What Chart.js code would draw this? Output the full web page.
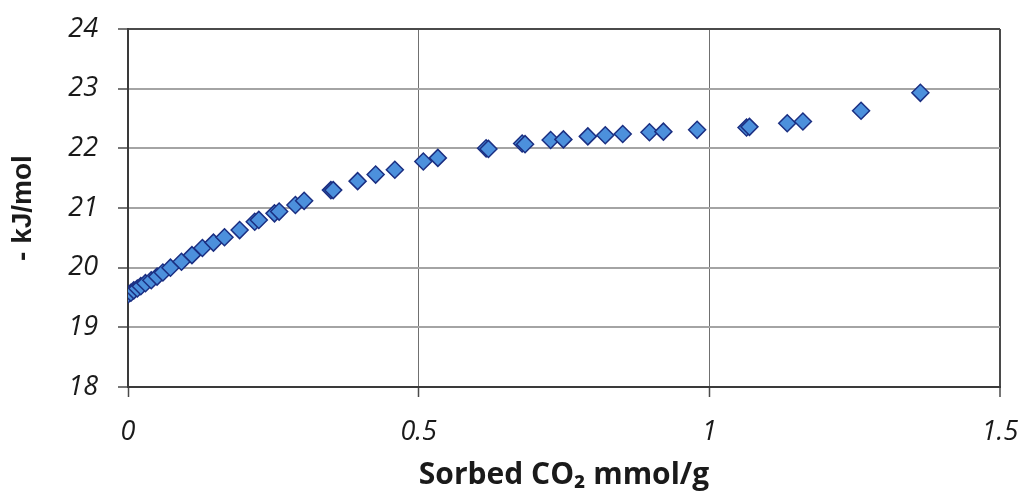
<!DOCTYPE html>
<html>
<head>
<meta charset="utf-8">
<script src="https://cdn.jsdelivr.net/npm/chart.js@4.4.1/dist/chart.umd.min.js"></script>
<style>
  html, body { margin: 0; padding: 0; background: #ffffff; }
  #wrap { width: 1023px; height: 493px; }
</style>
</head>
<body>
<div id="wrap"><canvas id="c" width="1023" height="493"></canvas></div>
<script>
// ---- data ----
const sorbedCO2 = [0.000, 0.005, 0.010, 0.016, 0.022, 0.030, 0.040, 0.050, 0.060, 0.073,
                   0.092, 0.110, 0.128, 0.147, 0.166, 0.192, 0.218, 0.225, 0.252, 0.260,
                   0.288, 0.303, 0.349, 0.353, 0.395, 0.426, 0.459, 0.508, 0.533, 0.616,
                   0.620, 0.678, 0.683, 0.727, 0.749, 0.791, 0.821, 0.851, 0.897, 0.921,
                   0.979, 1.064, 1.069, 1.134, 1.161, 1.261, 1.363];
const heatKJmol = [19.55, 19.58, 19.62, 19.65, 19.69, 19.74, 19.79, 19.85, 19.92, 20.00,
                   20.10, 20.21, 20.33, 20.42, 20.51, 20.63, 20.77, 20.80, 20.91, 20.94,
                   21.05, 21.12, 21.30, 21.30, 21.45, 21.56, 21.64, 21.78, 21.84, 22.00,
                   21.99, 22.08, 22.07, 22.14, 22.15, 22.20, 22.22, 22.24, 22.27, 22.28,
                   22.31, 22.35, 22.36, 22.42, 22.45, 22.63, 22.93];
const xTickValues = [0, 0.5, 1, 1.5];
const yTickValues = [18, 19, 20, 21, 22, 23, 24];
const xTitle = 'Sorbed CO\u2082 mmol/g';
const yTitle = '- kJ/mol';

const points = sorbedCO2.map((x, i) => ({ x: x, y: heatKJmol[i] }));

const tickFont = { family: "'Open Sans', sans-serif", size: 27, style: 'italic' };

new Chart(document.getElementById('c'), {
  type: 'scatter',
  data: {
    datasets: [{
      data: points,
      pointStyle: 'rectRot',
      pointRadius: 8.5,
      pointHoverRadius: 8.5,
      backgroundColor: '#4c90dc',
      borderColor: '#1b2f82',
      borderWidth: 1.5
    }]
  },
  options: {
    responsive: false,
    animation: false,
    devicePixelRatio: 1,
    layout: { padding: { left: 0, right: 23, top: 29, bottom: 0 } },
    plugins: { legend: { display: false }, tooltip: { enabled: false } },
    scales: {
      x: {
        type: 'linear',
        min: 0, max: 1.5,
        afterBuildTicks: s => { s.ticks = xTickValues.map(v => ({ value: v })); },
        afterFit: s => { s.height = 106; s.paddingLeft = 0; s.paddingRight = 0; },
        ticks: { font: tickFont, color: '#1a1a1a', padding: 19, maxRotation: 0,
                 callback: v => String(v) },
        grid: {
          color: c => (c.tick && c.tick.value === 1.5) ? '#4a4a4a' : '#707070',
          lineWidth: c => (c.tick && c.tick.value === 1.5) ? 2 : 1,
          tickColor: '#4a4a4a', tickLength: 10, tickWidth: 1.5
        },
        border: { color: '#3a3a3a', width: 2 },
        title: { display: true, text: xTitle, color: '#1a1a1a',
                 font: { family: "'Open Sans', sans-serif", size: 30, weight: 'bold' },
                 padding: { top: 0, bottom: 0 } }
      },
      y: {
        type: 'linear',
        min: 18, max: 24,
        afterBuildTicks: s => { s.ticks = yTickValues.map(v => ({ value: v })); },
        afterFit: s => { s.width = 128; s.paddingTop = 0; s.paddingBottom = 0; },
        ticks: { font: tickFont, color: '#1a1a1a', padding: 20, callback: v => String(v) },
        grid: {
          color: c => (c.tick && c.tick.value === 24) ? '#4a4a4a' : '#a4a4a4',
          lineWidth: 2,
          tickColor: '#4a4a4a', tickLength: 10, tickWidth: 1.5
        },
        border: { color: '#3a3a3a', width: 2 },
        title: { display: true, text: yTitle, color: '#1a1a1a',
                 font: { family: "'Liberation Sans', Arial, sans-serif", size: 28, weight: 'bold' },
                 padding: { top: 6, bottom: 0 } }
      }
    }
  }
});
</script>
</body>
</html>
